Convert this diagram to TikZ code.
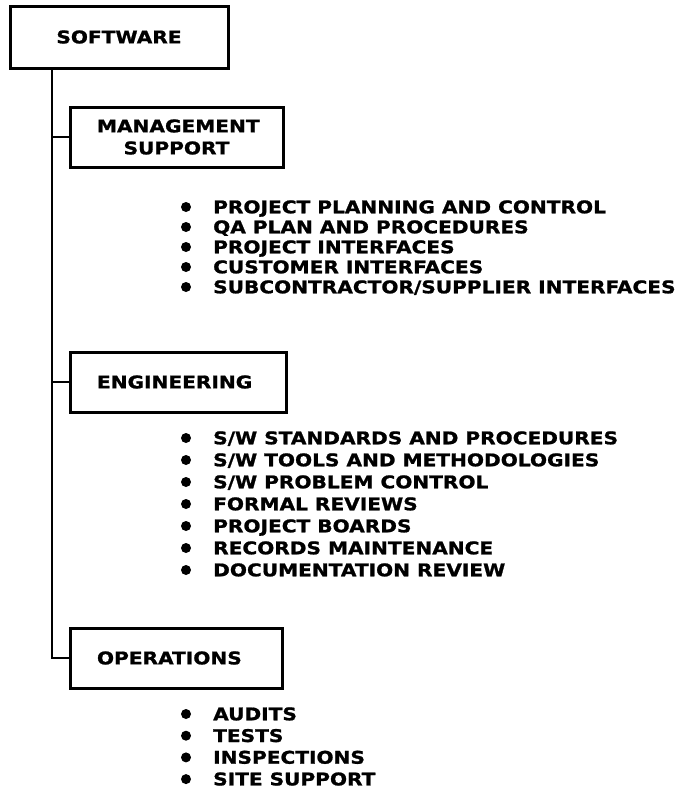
\documentclass[tikz,border=0pt]{standalone}
\usepackage{fontspec}
\newfontfamily\lettering[FakeStretch=1.15,FakeBold=1.2]{DejaVu Sans}
\usepackage{tikz}
\tikzstyle{unit}=[
        draw,
        line width=3pt,
        minimum height=60pt,
        inner xsep=27pt,
        align=left
]
\tikzstyle{item}=[
        anchor=base west,
        inner sep=0pt
]
\tikzstyle{trunk}=[
        line width=2.6pt
]
\begin{document}
\begin{tikzpicture}[x=1pt,y=-1pt,font=\lettering\bfseries\fontsize{17.5}{22}\selectfont]
                        \useasboundingbox (0,0) rectangle (686,793);

                        \node[unit, minimum width=218pt, minimum height=62pt, align=center] (software) at (119,37) {SOFTWARE};
                        \node[unit, text width=159pt, align=center] (mgmt) at (176.5,137) {MANAGEMENT\\SUPPORT};
                        \node[unit, text width=162pt] (eng) at (178,382) {ENGINEERING};
                        \node[unit, text width=158pt] (ops) at (176,658) {OPERATIONS};

                        \coordinate (spine) at (52,0);
                        \draw[trunk] (software.south -| spine) |- (ops.west);
                        \draw[trunk] (mgmt.west -| spine) -- (mgmt.west);
                        \draw[trunk] (eng.west -| spine) -- (eng.west);

                        \foreach \t [count=\i] in {PROJECT PLANNING AND CONTROL, QA PLAN AND PROCEDURES, PROJECT INTERFACES, CUSTOMER INTERFACES, SUBCONTRACTOR/SUPPLIER INTERFACES} {
                            \fill (186,187+20*\i) circle (5pt);
                            \node[item] (mgmt\i) at (213,193.3+20*\i) {\t};
                        }

                        \foreach \t [count=\i] in {S/W STANDARDS AND PROCEDURES, S/W TOOLS AND METHODOLOGIES, S/W PROBLEM CONTROL, FORMAL REVIEWS, PROJECT BOARDS, RECORDS MAINTENANCE, DOCUMENTATION REVIEW} {
                            \fill (186,416+22*\i) circle (5pt);
                            \node[item] (eng\i) at (213,422.3+22*\i) {\t};
                        }

                        \foreach \t [count=\i] in {AUDITS, TESTS, INSPECTIONS, SITE SUPPORT} {
                            \fill (186,692.3+21.7*\i) circle (5pt);
                            \node[item] (ops\i) at (213,698.6+21.7*\i) {\t};
                        }
                    \end{tikzpicture}
\end{document}
